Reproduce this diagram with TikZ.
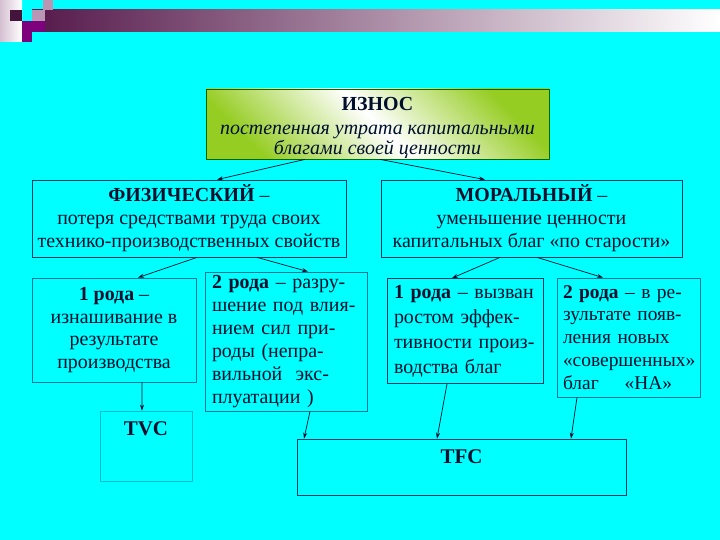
\documentclass[tikz,border=0pt]{standalone}
\usepackage{fontspec}
\setmainfont{Liberation Serif}
\usetikzlibrary{arrows.meta}
\definecolor{bgcyan}{RGB}{0,255,255}
\definecolor{inkblue}{RGB}{0,15,45}
\definecolor{edgeblue}{RGB}{0,60,100}
\definecolor{edgeteal}{RGB}{0,120,150}
\definecolor{leafgreen}{RGB}{150,205,35}
\definecolor{plum}{RGB}{85,25,75}
\definecolor{pinkgrey}{RGB}{185,150,180}
\definecolor{violetsq}{RGB}{125,0,125}
\begin{document}
\begin{tikzpicture}[x=1bp,y=-1bp,>={Stealth[length=6bp,width=4bp]},
  box/.style={draw=edgeblue,line width=0.8pt,align=center,inner sep=2pt,
              font=\fontsize{20}{23}\selectfont,text=inkblue},
  kind/.style={box,draw=edgeteal,text width=#1,align=left,inner xsep=7bp},
  lab/.style={anchor=north,font=\fontsize{21}{24}\selectfont\bfseries,text=inkblue},
  link/.style={->,draw=inkblue,line width=0.7pt}]
  \fill[bgcyan] (0,0) rectangle (720,540);
  \shade[left color=pinkgrey!60!white,right color=white] (0,0) rectangle (22,42);
  \shade[left color=plum,middle color=pinkgrey!80!white,right color=white] (32,10) rectangle (720,32);
  \fill[pinkgrey] (32,10) rectangle (45,21);
  \fill[pinkgrey] (43,0) rectangle (53,10);
  \fill[plum!80!black] (10,10) rectangle (22,21);
  \fill[violetsq] (22,21) rectangle (32,42);
  \fill[violetsq] (32,21) rectangle (45,32);

  \node[box,draw=black!60!green,minimum width=343bp,minimum height=70bp,
        top color=leafgreen,bottom color=leafgreen,middle color=white,shading angle=-45] (iz) at (377.5,124) {};
  \node[align=center,text=inkblue,font=\fontsize{20}{20.5}\selectfont] (izt) at ([yshift=-4bp]iz.center)
        {\textbf{ИЗНОС}\\[3bp]\textit{постепенная утрата капитальными}\\\textit{благами своей ценности}};
  \node[box,minimum width=314bp,minimum height=77bp] (phys) at (189,218.5)
        {\textbf{ФИЗИЧЕСКИЙ} –\\потеря средствами труда своих\\технико-производственных свойств};
  \node[box,minimum width=301bp,minimum height=77bp] (mor) at (531.5,218.5)
        {\textbf{МОРАЛЬНЫЙ} –\\уменьшение ценности\\капитальных благ «по старости»};
  \node[box,draw=edgeteal,minimum width=164bp,minimum height=104bp] (p1) at (114,330)
        {\textbf{1 рода} –\\изнашивание в\\результате\\производства};
  \node[kind=148bp,minimum height=139bp] (p2) at (286,341.5)
        {\textbf{2 рода} – разру-\\шение под влия-\\нием сил при-\\роды (непра-\\вильной \ экс-\\плуатации )};
  \node[kind=142bp,draw=edgeblue,minimum height=105bp,font=\fontsize{20}{25}\selectfont] (m1) at (465,331)
        {\textbf{1 рода} – вызван\\ростом эффек-\\тивности произ-\\водства благ};
  \node[kind=131bp,inner xsep=6bp,minimum height=119bp,font=\fontsize{19.5}{23}\selectfont] (m2) at (628.5,337.5)
        {\textbf{2 рода} – в ре-\\зультате появ-\\ления новых\\«совершенных»\\благ \quad «НА»};
  \node[box,draw=edgeteal!50!bgcyan,line width=0.6pt,minimum width=92bp,minimum height=70bp,
        label={[lab,yshift=-7bp]north:TVC}] (tvc) at (146,446) {};
  \node[box,minimum width=329bp,minimum height=56bp,
        label={[lab,yshift=-8bp]north:TFC}] (tfc) at (461.5,467) {};

  \draw[link] ([xshift=-72.5bp]iz.south) -- ([xshift=28bp]phys.north);
  \draw[link] ([xshift=2.5bp]iz.south) -- ([xshift=-46.5bp]mor.north);
  \draw[link] ([xshift=8bp]phys.south) -- ([xshift=24bp]p1.north);
  \draw[link] ([xshift=68bp]phys.south) -- ([xshift=22bp]p2.north);
  \draw[link] ([xshift=-31.5bp]mor.south) -- ([xshift=-13bp]m1.north);
  \draw[link] ([xshift=5.5bp]mor.south) -- ([xshift=-25.5bp]m2.north);
  \draw[link] ([xshift=28bp]p1.south) -- ([xshift=-4bp]tvc.north);
  \draw[link] ([xshift=24bp]p2.south) -- ([xshift=-157.5bp]tfc.north);
  \draw[link] ([xshift=-18bp]m1.south) -- ([xshift=-24.5bp]tfc.north);
  \draw[link] ([xshift=-51.5bp]m2.south) -- ([xshift=109.5bp]tfc.north);
\end{tikzpicture}
\end{document}
